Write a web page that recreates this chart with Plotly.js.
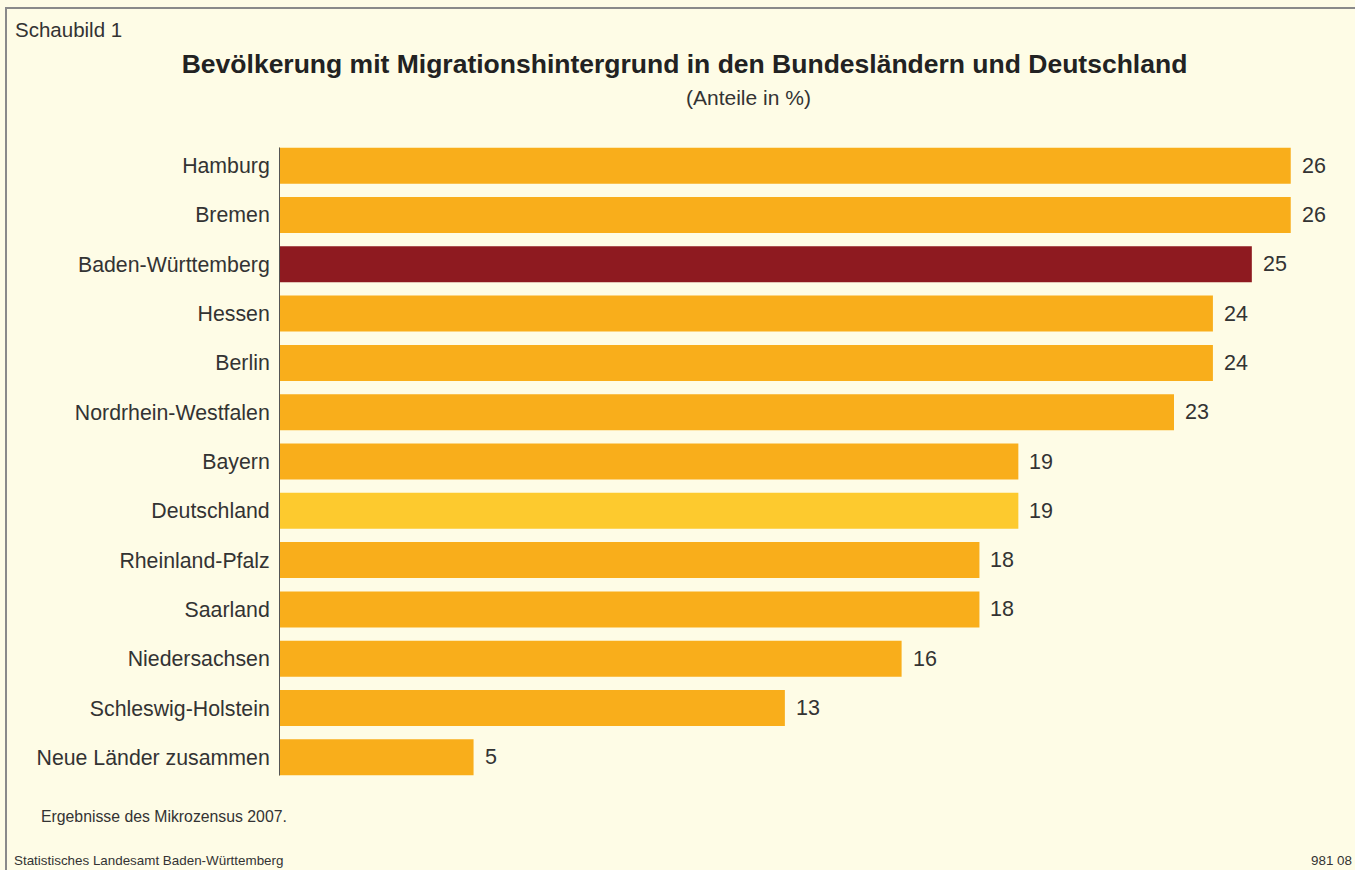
<!DOCTYPE html>
<html>
<head>
<meta charset="utf-8">
<script src="https://cdn.plot.ly/plotly-3.0.1.min.js"></script>
<style>
html,body{margin:0;padding:0;background:#FEFCE6;}
#wrap{position:relative;width:1355px;height:870px;}
#chart{width:1355px;height:870px;}
#frame{position:absolute;left:5px;top:7px;width:1360px;height:880px;border-top:2px solid #8a8a8a;border-left:2px solid #8a8a8a;pointer-events:none;}
</style>
</head>
<body>
<div id="wrap"><div id="chart"></div><div id="frame"></div></div>
<script>
const categories = ["Hamburg","Bremen","Baden-Württemberg","Hessen","Berlin","Nordrhein-Westfalen","Bayern","Deutschland","Rheinland-Pfalz","Saarland","Niedersachsen","Schleswig-Holstein","Neue Länder zusammen"];
const values = [26,26,25,24,24,23,19,19,18,18,16,13,5];
const highlight = {"Baden-Württemberg":"#8E1A20","Deutschland":"#FDCA2E"};
const baseColor = "#F9AE1B";

const colors = categories.map(c => highlight[c] || baseColor);
const FONT = "Liberation Sans, Arial, sans-serif";

const trace = {
  type: "bar",
  orientation: "h",
  x: values,
  y: categories,
  marker: {color: colors},
  width: 0.73,
  hoverinfo: "x+y"
};

const valueAnns = categories.map((c, i) => ({
  x: values[i], y: c, xref: "x", yref: "y",
  text: String(values[i]), showarrow: false,
  xanchor: "left", yanchor: "middle", xshift: 9,
  font: {family: FONT, size: 21.5, color: "#333"}
}));

const PW = 1074, PL = 279, PB = 782, PH = 641;
const px = v => (v - PL) / PW;
const py = v => (PB - v) / PH;

const textAnns = [
  {text: "Schaubild 1", x: px(13), y: py(29), xanchor: "left", yanchor: "middle", font: {size: 20.5}},
  {text: "(Anteile in %)", x: px(748), y: py(98), xanchor: "center", yanchor: "middle", font: {size: 21}},
  {text: "Ergebnisse des Mikrozensus 2007.", x: px(39), y: py(817), xanchor: "left", yanchor: "middle", font: {size: 15.8}},
  {text: "Statistisches Landesamt Baden-Württemberg", x: px(12), y: py(860), xanchor: "left", yanchor: "middle", font: {size: 13.4}},
  {text: "981 08", x: px(1354), y: py(860), xanchor: "right", yanchor: "middle", font: {size: 13.4}}
].map(a => Object.assign({xref: "paper", yref: "paper", showarrow: false}, a, {font: Object.assign({family: FONT, color: "#333"}, a.font)}));

const layout = {
  width: 1355, height: 870,
  paper_bgcolor: "#FEFCE6", plot_bgcolor: "#FEFCE6",
  margin: {l: 279, r: 2, t: 141, b: 88},
  showlegend: false,
  title: {
    text: "<b>Bevölkerung mit Migrationshintergrund in den Bundesländern und Deutschland</b>",
    x: 0.5052, y: 1 - 64/870, xref: "container", yref: "container",
    xanchor: "center", yanchor: "middle",
    font: {family: FONT, size: 26.5, color: "#222"}
  },
  xaxis: {range: [0, 27.6], visible: false, fixedrange: true},
  yaxis: {
    autorange: "reversed", type: "category",
    showline: false, showgrid: false, zeroline: false,
    ticks: "outside", ticklen: 4, tickcolor: "rgba(0,0,0,0)",
    tickfont: {family: FONT, size: 21.3, color: "#333"}
  },
  shapes: [{
    type: "line", xref: "x", yref: "y", x0: 0, x1: 0, y0: -0.37, y1: categories.length - 1 + 0.37,
    line: {color: "#555", width: 2}
  }],
  annotations: valueAnns.concat(textAnns)
};

Plotly.newPlot("chart", [trace], layout, {displayModeBar: false, staticPlot: true});
</script>
</body>
</html>
